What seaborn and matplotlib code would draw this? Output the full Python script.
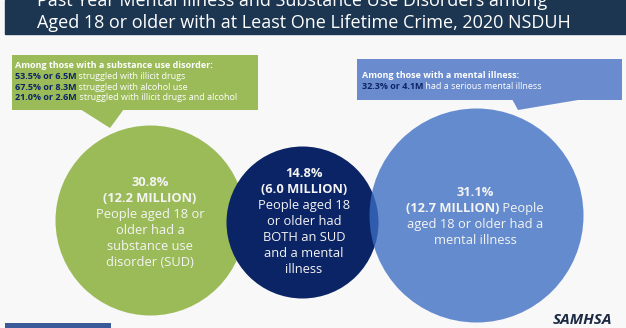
import matplotlib
matplotlib.use("Agg")
import matplotlib.pyplot as plt
import seaborn as sns
import pandas as pd
from matplotlib.patches import Rectangle, Polygon

# ---------------- data ----------------
title_lines = ["Past Year Mental Illness and Substance Use Disorders among",
               "Aged 18 or older with at Least One Lifetime Crime, 2020 NSDUH"]
groups = ["SUD", "Both", "Mental illness"]
group_pct = ["30.8%", "14.8%", "31.1%"]
group_millions = ["12.2", "6.0", "12.7"]

sud_header = "Among those with a substance use disorder:"
sud_pct = ["53.5%", "67.5%", "21.0%"]
sud_millions = ["6.5M", "8.3M", "2.6M"]
sud_desc = ["struggled with illicit drugs", "struggled with alcohol use",
            "struggled with illicit drugs and alcohol"]

ami_header = "Among those with a mental illness:"
ami_pct = ["32.3%"]
ami_millions = ["4.1M"]
ami_desc = ["had a serious mental illness"]

# ---------------- style ----------------
sns.set_theme(style="white")
plt.rcParams["font.family"] = ["Open Sans", "DejaVu Sans"]

GREEN = "#9bbb59"
NAVY = "#0b2466"
BLUE = "#6a8ccf"
BLUE_BASE = "#3b6cc3"
HEADER = "#1c3550"
BG = "#f8f8f8"
TXT = "#f4f4f4"

W, H, DPI = 626, 328, 100
fig = plt.figure(figsize=(W / DPI, H / DPI), dpi=DPI)
fig.patch.set_facecolor(BG)
ax = fig.add_axes([0, 0, 1, 1])
ax.set_facecolor(BG)

# layout (pixels)
centers = {"SUD": (150, 220), "Both": (302, 222), "Mental illness": (476, 215)}
radii = {"SUD": 95, "Both": 76, "Mental illness": 107}
colors = {"SUD": GREEN, "Both": NAVY, "Mental illness": BLUE_BASE}
alphas = {"SUD": 1.0, "Both": 1.0, "Mental illness": 0.78}

df = pd.DataFrame({"group": groups,
                   "x": [centers[g][0] for g in groups],
                   "y": [centers[g][1] for g in groups]})

for i, g in enumerate(groups):
    d_pt = 2 * radii[g] * 72 / DPI
    sns.scatterplot(data=df[df["group"] == g], x="x", y="y", s=d_pt ** 2,
                    color=colors[g], alpha=alphas[g], linewidth=0,
                    ax=ax, legend=False, zorder=2 + i)

ax.set_xlim(0, W)
ax.set_ylim(H, 0)
ax.axis("off")

# header band
ax.add_patch(Rectangle((5, 0), W - 5, 34, color=HEADER, zorder=1))
ax.text(37, 6, title_lines[0], color="white", fontsize=13.0, va="baseline", ha="left", zorder=10)
ax.text(37, 28, title_lines[1], color="white", fontsize=13.0, va="baseline", ha="left", zorder=10)

# callout boxes
ax.add_patch(Rectangle((12, 55), 246, 55, color=GREEN, zorder=6, linewidth=0))
ax.add_patch(Polygon([(80, 109), (124, 109), (110, 128)], closed=True, color=GREEN, zorder=6, linewidth=0))
ax.add_patch(Rectangle((357, 59), 265, 41, color=BLUE, zorder=6, linewidth=0))
ax.add_patch(Polygon([(512, 99), (584, 99), (518, 110)], closed=True, color=BLUE, zorder=6, linewidth=0))


def mixed(x, y, bold, normal, size, bcolor, ncolor):
    t = ax.text(x, y, bold, fontsize=size, fontweight="bold", color=bcolor,
                ha="left", va="baseline", zorder=10)
    ax.annotate(" " + normal, xy=(1, 0), xycoords=t, fontsize=size, color=ncolor,
                ha="left", va="bottom", zorder=10)


CFS = 6.5
ax.text(15, 68, sud_header, fontsize=CFS, fontweight="bold", color="white",
        ha="left", va="baseline", zorder=10)
for k in range(3):
    mixed(15, 79 + k * 10.5, f"{sud_pct[k]} or {sud_millions[k]}", sud_desc[k],
          CFS, NAVY, "white")

ax.text(362, 78, ami_header, fontsize=CFS, fontweight="bold", color="white",
        ha="left", va="baseline", zorder=10)
mixed(362, 89, f"{ami_pct[0]} or {ami_millions[0]}", ami_desc[0], CFS, NAVY, "white")

# circle texts
FS = 9.3


def lines_at(x, y0, step, items):
    for j, (txt, bold) in enumerate(items):
        ax.text(x, y0 + j * step, txt, fontsize=FS, fontweight="bold" if bold else "normal",
                color=TXT, ha="center", va="baseline", zorder=10)


lines_at(150, 186, 16, [(group_pct[0], True), (f"({group_millions[0]} MILLION)", True),
                        ("People aged 18 or", False), ("older had a", False),
                        ("substance use", False), ("disorder (SUD)", False)])
lines_at(304, 177, 16, [(group_pct[1], True), (f"({group_millions[1]} MILLION)", True),
                        ("People aged 18", False), ("or older had", False),
                        ("BOTH an SUD", False), ("and a mental", False), ("illness", False)])

# blue circle: mixed line centered
ax.text(475, 196, group_pct[2], fontsize=FS, fontweight="bold", color=TXT,
        ha="center", va="baseline", zorder=10)
fig.canvas.draw()
r = fig.canvas.get_renderer()
tb = ax.text(0, 212, f"({group_millions[2]} MILLION)", fontsize=FS, fontweight="bold",
             color=TXT, ha="left", va="baseline", zorder=10)
tn = ax.text(0, 212, " People", fontsize=FS, color=TXT, ha="left", va="baseline", zorder=10)
wb = tb.get_window_extent(r).width
wn = tn.get_window_extent(r).width
x0 = 475 - (wb + wn) / 2
tb.set_x(x0)
tn.set_x(x0 + wb)
ax.text(475, 228, "aged 18 or older had a", fontsize=FS, color=TXT, ha="center",
        va="baseline", zorder=10)
ax.text(475, 244, "mental illness", fontsize=FS, color=TXT, ha="center",
        va="baseline", zorder=10)

# footer
ax.add_patch(Rectangle((5, 323), 106, 6, color="#3a5a9a", zorder=6, linewidth=0))
ax.text(612, 324, "SAMHSA", fontsize=11, fontweight="bold", fontstyle="italic",
        color="#1c2a44", ha="right", va="baseline", zorder=10)

fig.savefig("out.png", dpi=DPI, facecolor=BG)
